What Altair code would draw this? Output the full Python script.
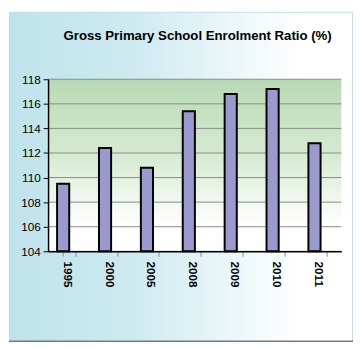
import altair as alt
import pandas as pd

years = ["1995", "2000", "2005", "2008", "2009", "2010", "2011"]
ratios = [109.5, 112.4, 110.8, 115.4, 116.8, 117.2, 112.8]
y_ticks = [104, 106, 108, 110, 112, 114, 116, 118]
title_text = "Gross Primary School Enrolment Ratio (%)"

W, H = 300, 176
PL, PT, PR, PB = 40, 69, 12, 93

df = pd.DataFrame({"year": years, "value": ratios})
bg = pd.DataFrame({"lo": [min(y_ticks)], "hi": [max(y_ticks)]})
grid = pd.DataFrame({"t": y_ticks})
ttl = pd.DataFrame({"label": [title_text]})

yscale = alt.Scale(domain=[min(y_ticks), max(y_ticks)], nice=False, zero=False)
xscale = alt.Scale(domain=years, paddingInner=0.71, paddingOuter=0.355)

yaxis = alt.Axis(values=y_ticks, labelFontSize=12, labelColor="#000",
                 labelFont="Liberation Sans", grid=False, tickColor="#000",
                 tickSize=5, domainColor="#000", domainWidth=1.5,
                 labelPadding=3, zindex=1)
xaxis = alt.Axis(labelAngle=90, labelFontWeight="bold", labelFontSize=12,
                 labelColor="#000", labelFont="Liberation Sans",
                 tickBand="extent", ticks=True, tickColor="#888",
                 tickSize=5, domainColor="#000", domainWidth=1.5,
                 labelPadding=5, labelAlign="left", labelBaseline="middle",
                 labelOffset=-2, zindex=1)

frame = alt.Chart(bg).mark_rect(
    fill=alt.Gradient(
        gradient="linear", x1=0, y1=0, x2=1, y2=0,
        stops=[alt.GradientStop(color="#bfe3eb", offset=0),
               alt.GradientStop(color="#cdeaf0", offset=0.35),
               alt.GradientStop(color="#ffffff", offset=0.85),
               alt.GradientStop(color="#ffffff", offset=1)]),
    stroke="#c4dde2", strokeWidth=1,
).encode(
    x=alt.value(-PL + 0.5), x2=alt.value(W + PR - 0.5),
    y=alt.value(-PT + 0.5), y2=alt.value(H + PB - 0.5),
)

bottom_line = alt.Chart(bg).mark_rule(color="#7a7a7a", strokeWidth=1.5).encode(
    x=alt.value(-PL), x2=alt.value(W + PR), y=alt.value(H + PB - 1),
)

title_mark = alt.Chart(ttl).mark_text(
    fontSize=13.5, fontWeight="bold", font="Liberation Sans", color="#000",
    align="center", baseline="middle",
).encode(text="label:N", x=alt.value(W / 2 + 3), y=alt.value(-44))

plotbg = alt.Chart(bg).mark_rect(
    fill=alt.Gradient(
        gradient="linear", x1=0, y1=0, x2=0, y2=1,
        stops=[alt.GradientStop(color="#b8dab3", offset=0),
               alt.GradientStop(color="#d6ebd2", offset=0.45),
               alt.GradientStop(color="#ffffff", offset=0.85),
               alt.GradientStop(color="#ffffff", offset=1)]),
).encode(
    x=alt.value(0), x2=alt.value(W),
    y=alt.Y("hi:Q", scale=yscale, axis=yaxis, title=None), y2="lo:Q",
)

gridlines = alt.Chart(grid).mark_rule(color="#8a8a8a", strokeWidth=1).encode(
    x=alt.value(0), x2=alt.value(W),
    y=alt.Y("t:Q", scale=yscale, axis=yaxis, title=None),
)

bars = alt.Chart(df).mark_bar(
    color="#9a9ace", stroke="#000000", strokeWidth=2, xOffset=-6
).encode(
    x=alt.X("year:N", scale=xscale, sort=years, title=None, axis=xaxis),
    y=alt.Y("value:Q", scale=yscale, title=None, axis=yaxis),
    y2=alt.datum(min(y_ticks)),
)

chart = alt.layer(frame, bottom_line, title_mark, plotbg, gridlines, bars).properties(
    width=W, height=H,
    padding=0,
).configure_view(stroke="#888888", strokeWidth=1.5).configure(background="white")

chart.save("out.html", embed_options={"renderer": "svg", "actions": False})
